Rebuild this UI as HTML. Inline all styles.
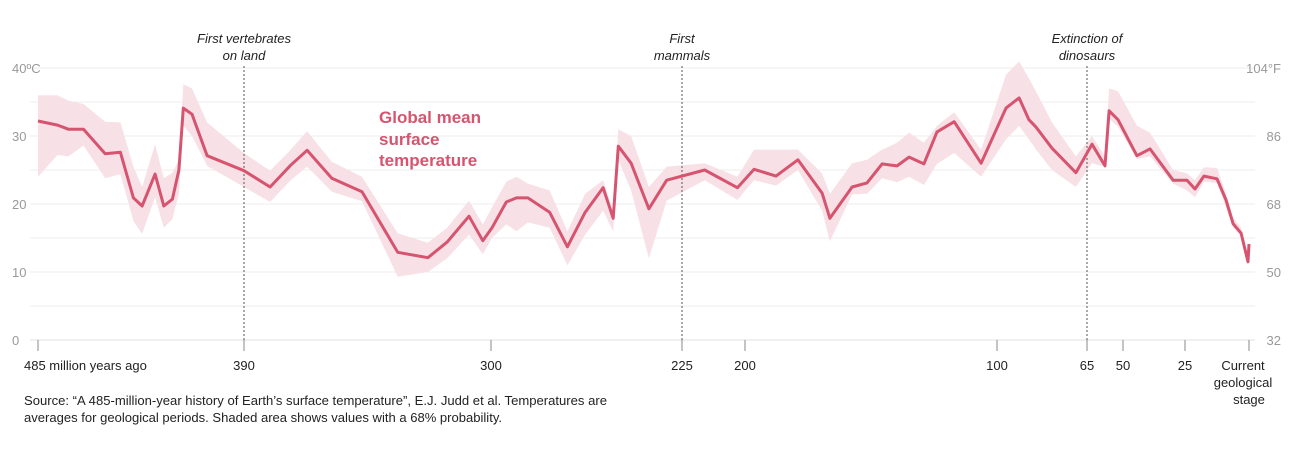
<!DOCTYPE html>
<html><head><meta charset="utf-8"><style>
html,body{margin:0;padding:0;background:#fff}
svg{display:block;font-family:"Liberation Sans",sans-serif}
</style></head><body>
<svg id="chart" width="1303" height="455" viewBox="0 0 1303 455" xmlns="http://www.w3.org/2000/svg">
<g id="grid"></g>
<g id="band"></g>
<g id="annos"></g>
<g id="series"></g>
<g id="axes"></g>
<text x="379" y="123" fill="#d6546f" font-size="17" font-weight="bold">Global mean</text>
<text x="379" y="145" fill="#d6546f" font-size="17" font-weight="bold">surface</text>
<text x="379" y="166" fill="#d6546f" font-size="17" font-weight="bold">temperature</text>
<text x="24" y="405" font-size="13" fill="#222" textLength="583" lengthAdjust="spacingAndGlyphs">Source: “A 485-million-year history of Earth’s surface temperature”, E.J. Judd et al. Temperatures are</text>
<text x="24" y="422" font-size="13" fill="#222" textLength="478" lengthAdjust="spacingAndGlyphs">averages for geological periods. Shaded area shows values with a 68% probability.</text>
</svg>
<script>
const ages=[485,476,471,464,454,447,441,437,431,427,423,420,418,414,407,390,380.5,373,367,358,347,334,323,316,308,303,299.6,294,290,285.5,277,270,263,256,252,250,245,238,231,216,203,196.4,187.7,179,169.4,166.3,157.5,151.6,145.6,139.7,134.9,129,123.8,117,106.3,96.5,91.4,87.6,84.8,78.6,69.3,62.9,57.5,55.8,52.1,44.4,39.1,29.8,24.2,21.1,17.6,12.5,9,6.2,3.1,0.4,0];
const temps=[32.2,31.6,31.0,31.0,27.4,27.6,20.9,19.7,24.4,19.7,20.7,25.0,34.1,33.2,27.1,24.9,22.5,25.7,27.9,23.8,21.8,12.9,12.1,14.4,18.2,14.6,16.5,20.3,20.9,20.9,18.8,13.7,18.8,22.4,17.9,28.5,26.0,19.3,23.5,25.0,22.4,25.1,24.1,26.5,21.6,17.9,22.5,23.1,25.9,25.6,26.9,25.9,30.6,32.1,26.0,34.1,35.6,32.4,31.3,28.2,24.6,28.8,25.6,33.7,32.4,27.1,28.1,23.5,23.5,22.2,24.1,23.7,20.6,17.1,15.7,11.5,14.1];
const upper=[36,36,35.2,34.7,32.1,32,25.5,22.5,28.8,23.8,24.6,26.5,37.6,37,32,27.5,24.9,28,30.7,26.2,24,15.7,14.3,16.5,20.5,17,19.5,23.3,24,23,22,16,21.5,23.5,19,31,30,22.5,25.5,26,24,28,28,28,24.5,21.5,26,26.5,28,29,30.5,29,31.5,33.5,28,39,41,38.5,36.5,32,27,30,27,37,36.6,31.5,30.5,25,24.5,23.5,25.4,25.3,21.5,18,16.5,11.5,14.1];
const lower=[24,27.2,27,28.6,23.8,24.4,17.5,15.6,21,16.5,17.8,21.5,31.5,30,25.6,22.5,20.3,23.5,25.5,21.8,20.4,9.3,10,12,15.5,12.6,15,17,16,17.3,16.5,11,15.5,19,16,26.5,22,12,20.5,23.5,20.6,23.5,22.7,25,19,14.5,21.4,21.5,23.8,23.2,24,22.8,25.9,27.5,24,29.5,31.5,29.5,28,25,22.5,26,25.5,32.5,31.4,26.6,27,23,22,21,23.3,23.1,19.5,16.5,15.3,11.5,14.1];
const cTicks=[0,10,20,30,40];
const fTicks=["32","50","68","86","104°F"];
const xTickAges=[485,390,300,225,200,100,65,50,25,0];
const xTickLabels=["485 million years ago","390","300","225","200","100","65","50","25","Current"];
const events=[390,225,65];
const eventLabels=[["First vertebrates","on land"],["First","mammals"],["Extinction of","dinosaurs"]];

const NS="http://www.w3.org/2000/svg";
const anchorAge=[485,390,300,225,200,100,65,50,25,0];
const anchorPx=[38,244,491,682,745,997,1087,1123,1185,1249];
function xs(a){for(let i=0;i<anchorAge.length-1;i++){if(a<=anchorAge[i]&&a>=anchorAge[i+1]){const t=(anchorAge[i]-a)/(anchorAge[i]-anchorAge[i+1]);return anchorPx[i]+t*(anchorPx[i+1]-anchorPx[i]);}}return a>485?38:1249;}
function ys(t){return 340-t*6.8;}
function mk(tag,attrs,parent,txt){const e=document.createElementNS(NS,tag);for(const k in attrs)e.setAttribute(k,attrs[k]);if(txt!==undefined)e.textContent=txt;parent.appendChild(e);return e;}
const grid=document.getElementById('grid'),band=document.getElementById('band'),annos=document.getElementById('annos'),series=document.getElementById('series'),axes=document.getElementById('axes');
for(let v=5;v<=40;v+=5){const l=mk('line',{x1:30,x2:1255,y1:ys(v),y2:ys(v),stroke:'#ececec','stroke-width':1},grid);

}
const base=mk('line',{x1:30,x2:1255,y1:340,y2:340,stroke:'#e2e2e2','stroke-width':1},grid);


cTicks.forEach((v,i)=>{const t=mk('text',{x:12,y:ys(v)+5,'font-size':13,fill:'#999'},axes,v===40?'40ºC':String(v));


const f=mk('text',{x:1281,y:ys(v)+5,'font-size':13,fill:'#999','text-anchor':'end'},axes,fTicks[i]);

});
xTickAges.forEach((a,i)=>{const x=xs(a);const tk=mk('line',{x1:x,x2:x,y1:340,y2:351,stroke:'#888','stroke-width':1},axes);


const anchor=i===0?'start':'middle';const tx=i===0?x-14:x;
const t=mk('text',{x:tx,y:370,'font-size':13,fill:'#222','text-anchor':anchor},axes,xTickLabels[i]);


if(a===0){const t2=mk('text',{x:x-6,y:387,'font-size':13,fill:'#222','text-anchor':'middle'},axes,'geological');


const t3=mk('text',{x:x,y:404,'font-size':13,fill:'#222','text-anchor':'middle'},axes,'stage');


t.setAttribute('x',x-6);}});
events.forEach((a,i)=>{const x=xs(a);const l=mk('line',{x1:x,x2:x,y1:66,y2:346,stroke:'#555','stroke-width':1,'stroke-dasharray':'2,2'},annos);


eventLabels[i].forEach((s,j)=>{const t=mk('text',{x:x,y:43+j*17,'font-size':13,'font-style':'italic',fill:'#222','text-anchor':'middle'},annos,s);

});});
let d='';ages.forEach((a,i)=>{d+=(i?'L':'M')+xs(a).toFixed(1)+','+ys(upper[i]).toFixed(1);});
for(let i=ages.length-1;i>=0;i--){d+='L'+xs(ages[i]).toFixed(1)+','+ys(lower[i]).toFixed(1);}d+='Z';
const bp=mk('path',{d:d,fill:'#f7e1e6'},band);


let ld='';ages.forEach((a,i)=>{ld+=(i?'L':'M')+xs(a).toFixed(1)+','+ys(temps[i]).toFixed(1);});
const lp=mk('path',{d:ld,fill:'none',stroke:'#d6546f','stroke-width':3,'stroke-linejoin':'round'},series);


</script>
</body></html>
